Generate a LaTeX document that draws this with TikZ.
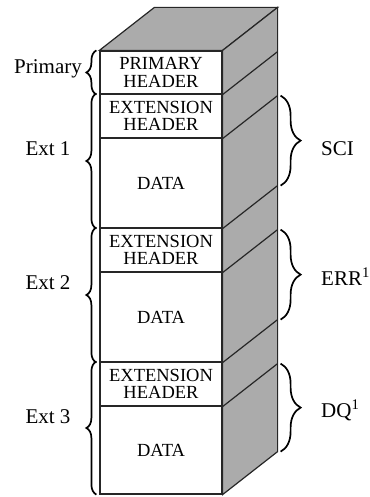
\documentclass[tikz,border=0pt]{standalone}
\usepackage{fontspec}
\setmainfont{Liberation Serif}
\usetikzlibrary{decorations.pathreplacing}
\begin{document}
\begin{tikzpicture}[x=1pt,y=-1pt,
  edge/.style={draw=black!85,line width=1.2pt},
  sect/.style={edge,fill=white,minimum width=122pt,inner sep=0pt,align=center,
    font=\fontsize{18.5}{17.5}\selectfont},
  side/.style={fill=black!33},
  lbrace/.style={decorate,decoration={brace,amplitude=10pt},line width=1.7pt},
  rbrace/.style={decorate,decoration={brace,amplitude=20pt},line width=1.7pt},
  lab/.style={font=\fontsize{21}{24}\selectfont,inner sep=0pt}]
\useasboundingbox (0,0) rectangle (369,497);

% front face: one box per section of the stack
\node[sect,minimum height=43pt] (ph) at (161,72.5) {PRIMARY\\HEADER};
\node[sect,minimum height=44pt] (h1) at (161,116) {EXTENSION\\HEADER};
\node[sect,minimum height=90pt] (d1) at (161,183) {DATA};
\node[sect,minimum height=44pt] (h2) at (161,250) {EXTENSION\\HEADER};
\node[sect,minimum height=90pt] (d2) at (161,317) {DATA};
\node[sect,minimum height=44pt] (h3) at (161,384) {EXTENSION\\HEADER};
\node[sect,minimum height=88pt] (d3) at (161,450) {DATA};

% top and right faces of the block
\filldraw[side,edge] (ph.north west) -- ([shift={(55,-43)}]ph.north west)
  -- ([shift={(55,-43)}]ph.north east) -- (ph.north east) -- cycle;
\filldraw[side,edge] (ph.north east) -- ([shift={(55,-43)}]ph.north east)
  -- ([shift={(55,-43)}]d3.south east) -- (d3.south east) -- cycle;
\foreach \n in {ph,h1,d1,h2,d2,h3}
  \draw[edge] (\n.south east) -- ([shift={(55,-43)}]\n.south east);

% braces on the left
\draw[lbrace] ([xshift=-3pt]ph.south west) -- ([xshift=-3pt]ph.north west);
\draw[lbrace] ([xshift=-3pt]d1.south west) -- ([xshift=-3pt]h1.north west);
\draw[lbrace] ([xshift=-3pt]d2.south west) -- ([xshift=-3pt]h2.north west);
\draw[lbrace] ([xshift=-3pt]d3.south west) -- ([xshift=-3pt]h3.north west);

% braces on the right, along the back edge
\draw[rbrace] ([shift={(58,-43)}]h1.south east) -- ([shift={(58,-43)}]d1.south east);
\draw[rbrace] ([shift={(58,-43)}]h2.south east) -- ([shift={(58,-43)}]d2.south east);
\draw[rbrace] ([shift={(58,-43)}]h3.south east) -- ([shift={(58,-43)}]d3.south east);

% labels
\node[lab,anchor=base] (lp) at (48,74) {Primary};
\node[lab,anchor=base] (l1) at (48,155) {Ext 1};
\node[lab,anchor=base] (l2) at (48,289) {Ext 2};
\node[lab,anchor=base] (l3) at (48,423) {Ext 3};
\node[lab,anchor=base west] (rs) at (321,155) {SCI};
\node[lab,anchor=base west] (re) at (321,285) {ERR\textsuperscript{1}};
\node[lab,anchor=base west] (rd) at (321,417) {DQ\textsuperscript{1}};
\end{tikzpicture}
\end{document}
